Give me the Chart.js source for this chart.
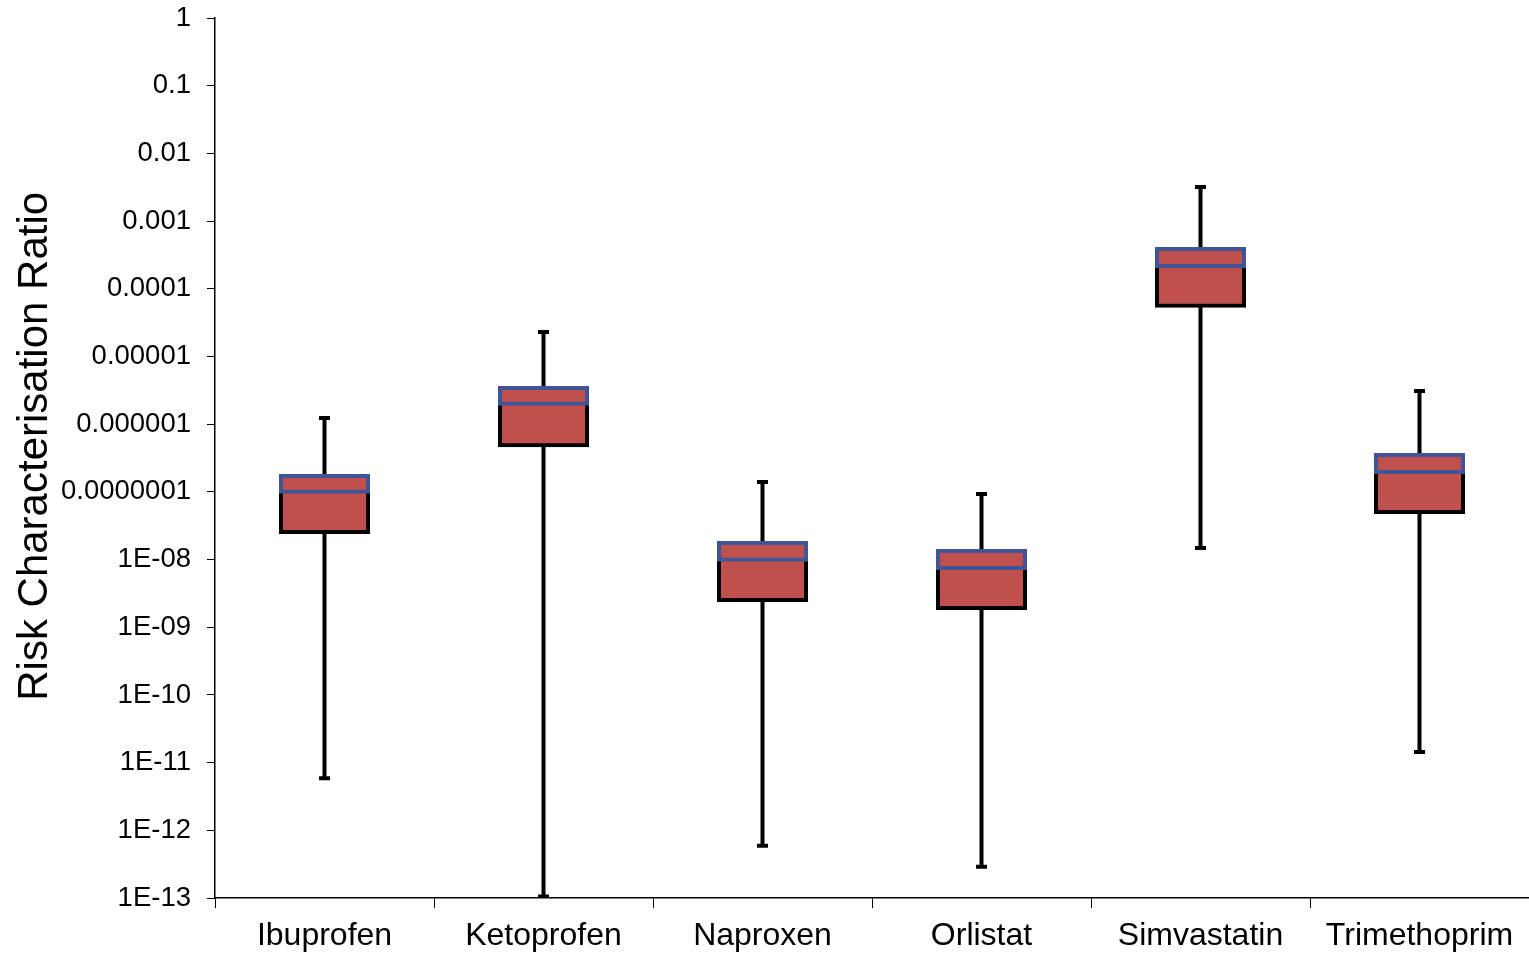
<!DOCTYPE html>
<html>
<head>
<meta charset="utf-8">
<script src="https://cdn.jsdelivr.net/npm/chart.js@4/dist/chart.umd.min.js"></script>
<style>
  html, body { margin: 0; padding: 0; background: #fff; }
  #wrap { width: 1529px; height: 956px; }
</style>
</head>
<body>
<div id="wrap"><canvas id="c" width="1529" height="956"></canvas></div>
<script>
// Risk characterisation ratios per compound (box-and-whisker summary)
const categories = ['Ibuprofen', 'Ketoprofen', 'Naproxen', 'Orlistat', 'Simvastatin', 'Trimethoprim'];
const whiskerMin = [5.9e-12, 1.05e-13, 5.9e-13, 2.9e-13, 1.48e-8, 1.44e-11];
const quartile1  = [2.56e-8, 4.9e-7, 2.53e-9, 1.93e-9, 5.6e-5, 5.05e-8];
const median     = [1.0e-7, 2.0e-6, 9.9e-9, 7.5e-9, 2.17e-4, 1.97e-7];
const quartile3  = [1.72e-7, 3.43e-6, 1.76e-8, 1.34e-8, 3.87e-4, 3.5e-7];
const whiskerMax = [1.23e-6, 2.3e-5, 1.4e-7, 9.3e-8, 3.19e-3, 3.09e-6];

// Axis tick values and their printed labels
const tickValues = [1e-13, 1e-12, 1e-11, 1e-10, 1e-9, 1e-8, 1e-7, 1e-6, 1e-5, 1e-4, 1e-3, 1e-2, 1e-1, 1];
const tickLabels = ['1E-13', '1E-12', '1E-11', '1E-10', '1E-09', '1E-08', '0.0000001', '0.000001',
                    '0.00001', '0.0001', '0.001', '0.01', '0.1', '1'];

const BOX_FILL = '#C0504D';
const BOX_BLUE = '#3F5597';
const BLACK = '#000000';
const BOX_W = 87;
const BOX_LINE = 4;

const pairs = (a, b) => categories.map((_, i) => [a[i], b[i]]);

const chart = new Chart(document.getElementById('c'), {
  data: {
    labels: categories,
    datasets: [
      // whisker stems
      { type: 'bar', data: pairs(whiskerMin, quartile1), backgroundColor: BLACK, borderWidth: 0,
        barThickness: 4, grouped: false, inflateAmount: 0, order: 5 },
      { type: 'bar', data: pairs(quartile3, whiskerMax), backgroundColor: BLACK, borderWidth: 0,
        barThickness: 4, grouped: false, inflateAmount: 0, order: 5 },
      // whisker caps
      { type: 'line', data: whiskerMax, showLine: false, pointStyle: 'line', pointRadius: 5.5,
        borderColor: BLACK, pointBorderWidth: 4, order: 4 },
      { type: 'line', data: whiskerMin, showLine: false, pointStyle: 'line', pointRadius: 5.5,
        borderColor: BLACK, pointBorderWidth: 4, order: 4 },
      // lower box: first quartile to median (top edge left to the upper box);
      // inflated by half the border so outlines sit centred on the quartile values
      { type: 'bar', data: pairs(quartile1, median), backgroundColor: BOX_FILL, borderColor: BLACK,
        borderWidth: BOX_LINE, borderSkipped: 'end', barThickness: BOX_W, grouped: false,
        inflateAmount: BOX_LINE / 2, order: 2 },
      // upper box: median to third quartile
      { type: 'bar', data: pairs(median, quartile3), backgroundColor: BOX_FILL, borderColor: BOX_BLUE,
        borderWidth: BOX_LINE, borderSkipped: false, barThickness: BOX_W, grouped: false,
        inflateAmount: BOX_LINE / 2, order: 1 }
    ]
  },
  options: {
    responsive: false,
    animation: false,
    layout: { autoPadding: false, padding: { top: 18, right: 0, left: 0, bottom: 0 } },
    plugins: { legend: { display: false }, tooltip: { enabled: false } },
    scales: {
      x: {
        type: 'category',
        offset: true,
        grid: { display: true, drawOnChartArea: false, drawTicks: true, tickLength: 10,
                color: BLACK, lineWidth: 1, offset: true },
        border: { display: true, color: BLACK, width: 1.5 },
        ticks: { color: BLACK, padding: 9, font: { family: 'Liberation Sans', size: 32 }, maxRotation: 0 },
        afterFit: (s) => { s.height = 58; s.paddingLeft = 0; s.paddingRight = 0; }
      },
      y: {
        type: 'logarithmic',
        min: 1e-13,
        max: 1,
        afterBuildTicks: (s) => { s.ticks = tickValues.map(v => ({ value: v })); },
        ticks: {
          color: BLACK,
          padding: 16,
          font: { family: 'Liberation Sans', size: 27.5 },
          callback: (v) => tickLabels[tickValues.findIndex(t => Math.abs(Math.log10(t) - Math.log10(v)) < 1e-6)]
        },
        grid: { display: true, drawOnChartArea: false, drawTicks: true, tickLength: 8,
                color: BLACK, lineWidth: 1 },
        border: { display: true, color: BLACK, width: 1.5 },
        title: {
          display: true,
          text: '  Risk Characterisation Ratio',
          color: BLACK,
          font: { family: 'Liberation Sans', size: 42 },
          padding: { top: 10, bottom: 0 }
        },
        afterFit: (s) => { s.width = 215; s.paddingTop = 0; s.paddingBottom = 0; }
      }
    }
  }
});
</script>
</body>
</html>
